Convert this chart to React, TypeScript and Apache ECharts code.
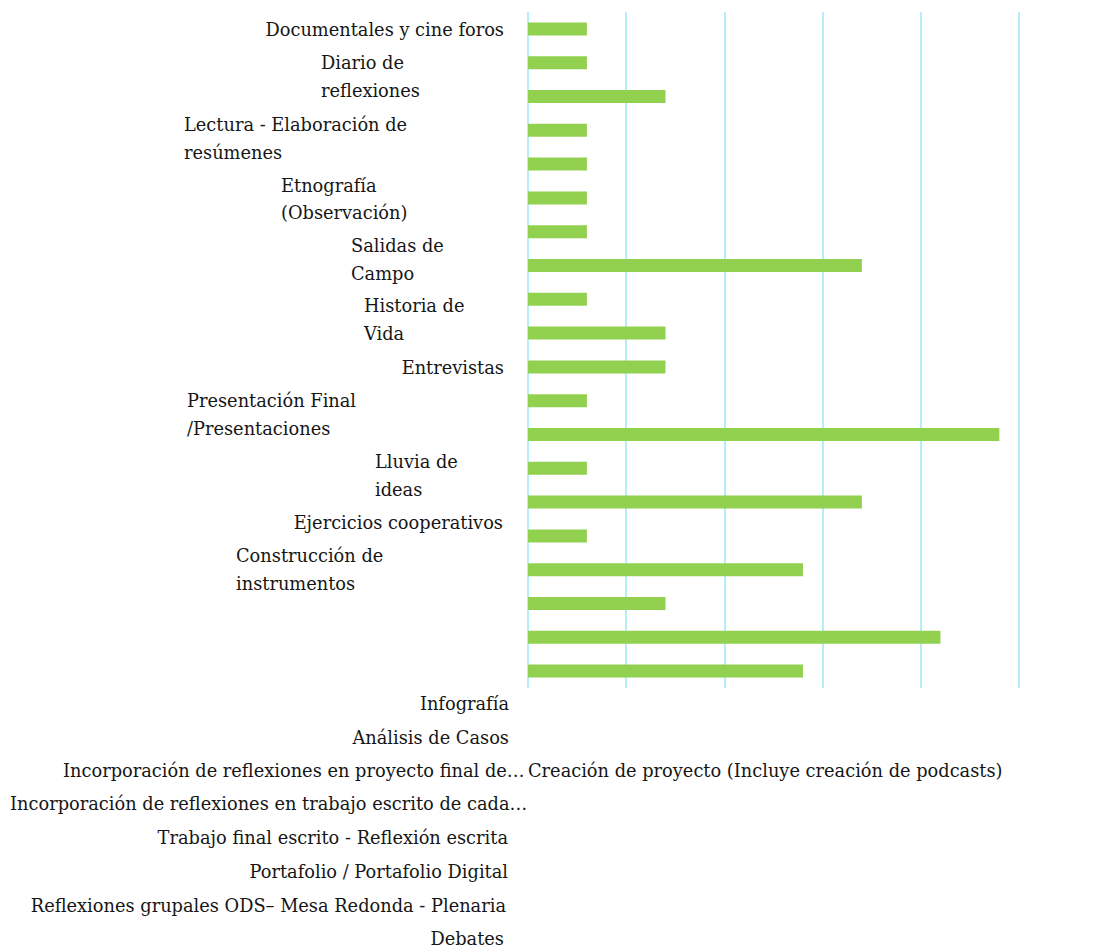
import React, { useEffect, useRef } from "react";
import * as echarts from "echarts";

const categories = [
  "Documentales y cine foros",
  "Diario de reflexiones",
  "Lectura - Elaboración de resúmenes",
  "Etnografía (Observación)",
  "Salidas de Campo",
  "Historia de Vida",
  "Entrevistas",
  "Presentación Final /Presentaciones",
  "Lluvia de ideas",
  "Ejercicios cooperativos",
  "Construcción de instrumentos",
  "Infografía",
  "Análisis de Casos",
  "Incorporación de reflexiones en proyecto final de…",
  "Creación de proyecto (Incluye creación de podcasts)",
  "Incorporación de reflexiones en trabajo escrito de cada…",
  "Trabajo final escrito - Reflexión escrita",
  "Portafolio / Portafolio Digital",
  "Reflexiones grupales ODS– Mesa Redonda - Plenaria",
  "Debates",
];

const values = [3, 3, 7, 3, 3, 3, 3, 17, 3, 7, 7, 3, 24, 3, 17, 3, 14, 7, 21, 14];

const xTicks = [0, 5, 10, 15, 20, 25];

// label placement (x, y of first line, alignment, words on first line; 0 = no wrap)
const labelLayout = [
  { x: 504, y: 29, align: "right", wrap: 0, lh: 28 },
  { x: 321, y: 62, align: "left", wrap: 2, lh: 28 },
  { x: 184, y: 124, align: "left", wrap: 4, lh: 28 },
  { x: 281, y: 185, align: "left", wrap: 1, lh: 27 },
  { x: 351, y: 245, align: "left", wrap: 2, lh: 28 },
  { x: 364, y: 305, align: "left", wrap: 2, lh: 28 },
  { x: 504, y: 367, align: "right", wrap: 0, lh: 28 },
  { x: 187, y: 400, align: "left", wrap: 2, lh: 28 },
  { x: 375, y: 461, align: "left", wrap: 2, lh: 28 },
  { x: 503, y: 522, align: "right", wrap: 0, lh: 28 },
  { x: 236, y: 555, align: "left", wrap: 2, lh: 28 },
  { x: 509, y: 703, align: "right", wrap: 0, lh: 28 },
  { x: 509, y: 737, align: "right", wrap: 0, lh: 28 },
  { x: 63, y: 770, align: "left", wrap: 0, lh: 28 },
  { x: 528, y: 770, align: "left", wrap: 0, lh: 28 },
  { x: 10, y: 803, align: "left", wrap: 0, lh: 28 },
  { x: 508, y: 837, align: "right", wrap: 0, lh: 28 },
  { x: 508, y: 871, align: "right", wrap: 0, lh: 28 },
  { x: 506, y: 905, align: "right", wrap: 0, lh: 28 },
  { x: 504, y: 938, align: "right", wrap: 0, lh: 28 },
];

const FONT = "'DejaVu Serif', serif";

function wrapText(s: string, n: number) {
  if (!n) return s;
  const w = s.split(" ");
  return w.slice(0, n).join(" ") + "\n" + w.slice(n).join(" ");
}

export default function App() {
  const ref = useRef<HTMLDivElement>(null);
  useEffect(() => {
    document.body.style.margin = "0";
    const chart = echarts.init(ref.current!, undefined, { renderer: "svg" });
    const graphics = categories.map((c, i) => {
      const l = labelLayout[i];
      return {
        type: "text",
        x: l.x,
        y: l.y - l.lh / 2,
        silent: true,
        style: {
          text: wrapText(c, l.wrap),
          fontFamily: FONT,
          fontSize: 17.8,
          lineHeight: l.lh,
          fill: "#161616",
          align: l.align,
          verticalAlign: "top",
        },
      };
    });
    chart.setOption({
      animation: false,
      grid: { left: 528, right: 88, top: 12, bottom: 259, containLabel: false },
      xAxis: {
        type: "value",
        min: xTicks[0],
        max: xTicks[xTicks.length - 1],
        interval: xTicks[1] - xTicks[0],
        axisLabel: { show: false },
        axisLine: { show: false },
        axisTick: { show: false },
        splitLine: { show: true, lineStyle: { color: "#b5eefa", width: 2 } },
      },
      yAxis: {
        type: "category",
        inverse: true,
        data: categories,
        axisLabel: { show: false },
        axisLine: { show: false },
        axisTick: { show: false },
        splitLine: { show: false },
      },
      series: [
        {
          type: "bar",
          data: values,
          barWidth: 13,
          itemStyle: { color: "#92d050" },
        },
      ],
      graphic: graphics,
    });
    return () => chart.dispose();
  }, []);
  return <div ref={ref} style={{ width: 1107, height: 947 }} />;
}
